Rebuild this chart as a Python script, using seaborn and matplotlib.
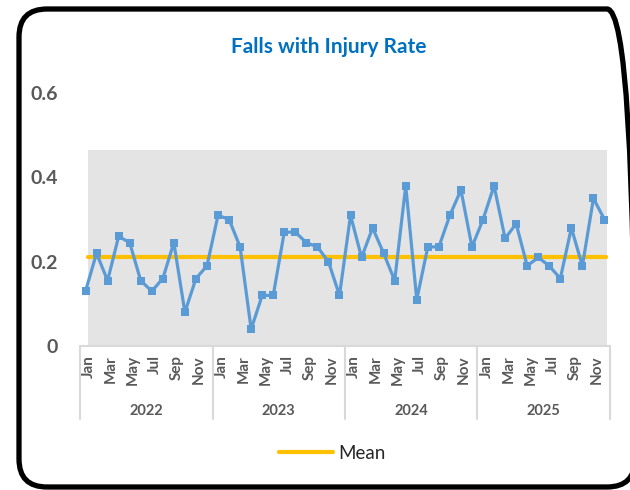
import matplotlib
matplotlib.use("Agg")
import matplotlib.pyplot as plt
from matplotlib.patches import FancyBboxPatch
from matplotlib.lines import Line2D
import matplotlib.transforms as mtransforms
import numpy as np
import pandas as pd
import seaborn as sns

# values
years = ["2022", "2023", "2024", "2025"]
months = ["Jan", "Feb", "Mar", "Apr", "May", "Jun",
          "Jul", "Aug", "Sep", "Oct", "Nov", "Dec"]
rate_2022 = [0.13, 0.22, 0.155, 0.26, 0.245, 0.155, 0.13, 0.16, 0.245, 0.08, 0.16, 0.19]
rate_2023 = [0.31, 0.30, 0.235, 0.04, 0.12, 0.12, 0.27, 0.27, 0.245, 0.235, 0.20, 0.12]
rate_2024 = [0.31, 0.21, 0.28, 0.22, 0.155, 0.38, 0.11, 0.235, 0.235, 0.31, 0.37, 0.235]
rate_2025 = [0.30, 0.38, 0.255, 0.29, 0.19, 0.21, 0.19, 0.16, 0.28, 0.19, 0.35, 0.30]
mean_rate = 0.21
band_top = 0.464

rates = rate_2022 + rate_2023 + rate_2024 + rate_2025
df = pd.DataFrame({
    "idx": np.arange(len(rates)),
    "month": months * len(years),
    "rate": rates,
})

sns.set_theme(style="white")
plt.rcParams["font.family"] = ["Lato", "DejaVu Sans"]

fig = plt.figure(figsize=(6.3, 4.9), dpi=100)
ax = fig.add_axes([80 / 630, 1 - 346 / 490, 530 / 630, 253 / 490])

grey = "#595959"
n = len(rates)

# grey background band
ax.fill_between([0.22, n - 1 + 0.25], 0, band_top, color="#E4E4E4", lw=0, zorder=0)

# mean line
sns.lineplot(x=[0.2, n - 1 + 0.15], y=[mean_rate, mean_rate], ax=ax, color="#FFC000",
             lw=3.0, solid_capstyle="round", zorder=2, label="Mean")

# monthly rate
sns.lineplot(data=df, x="idx", y="rate", ax=ax, color="#5B9BD5", lw=2.3,
             marker="s", markersize=5.5, markeredgewidth=0, zorder=3, legend=False)

ax.set_xlim(-0.5, n - 0.5)
ax.set_ylim(0, 0.6)
for s in ax.spines.values():
    s.set_visible(False)

ax.set_yticks([0, 0.2, 0.4, 0.6])
ax.set_yticklabels(["0", "0.2", "0.4", "0.6"], fontsize=14, fontweight="bold", color=grey)
ax.tick_params(axis="y", length=0, pad=16)
ax.set_xticks([])
ax.set_xlabel("")
ax.set_ylabel("")

# category axis
trans = mtransforms.blended_transform_factory(ax.transData, ax.transAxes)
ax.plot([-0.5, n - 0.5], [0, 0], transform=trans, color="#D9D9D9", lw=1.5, clip_on=False)
sep_bottom = -(419 - 346) / 253
for k in range(len(years) + 1):
    xs = k * 12 - 0.5
    ax.plot([xs, xs], [0, sep_bottom], transform=trans, color="#D9D9D9", lw=1.5, clip_on=False)

for i, m in enumerate(df["month"]):
    if i % 2 == 0:
        ax.text(i + 0.3, -(355 - 346) / 253, m, transform=trans, rotation=90,
                ha="center", va="top", fontsize=11, fontweight="bold", color=grey)
for k, yr in enumerate(years):
    ax.text(k * 12 + 5.5, -(411 - 346) / 253, yr, transform=trans,
            ha="center", va="center", fontsize=10.5, fontweight="bold", color=grey)

ax.get_legend().remove()
fig.legend(handles=[Line2D([], [], color="#FFC000", lw=3.0)], labels=["Mean"],
           loc="center", bbox_to_anchor=(332 / 630, 1 - 453 / 490), frameon=False,
           fontsize=13.5, handlelength=2.9, handletextpad=0.25)

fig.text(329 / 630, 1 - 47 / 490, "Falls with Injury Rate", ha="center", va="center",
         fontsize=15, fontweight="bold", color="#0070C0")

# rounded card border
card = FancyBboxPatch((0.19, 0.03), 6.16, 4.78, boxstyle="round,pad=0,rounding_size=0.28",
                      transform=fig.dpi_scale_trans, fill=False, ec="black", lw=3.8)
fig.patches.append(card)

fig.savefig("out.png", dpi=100)
